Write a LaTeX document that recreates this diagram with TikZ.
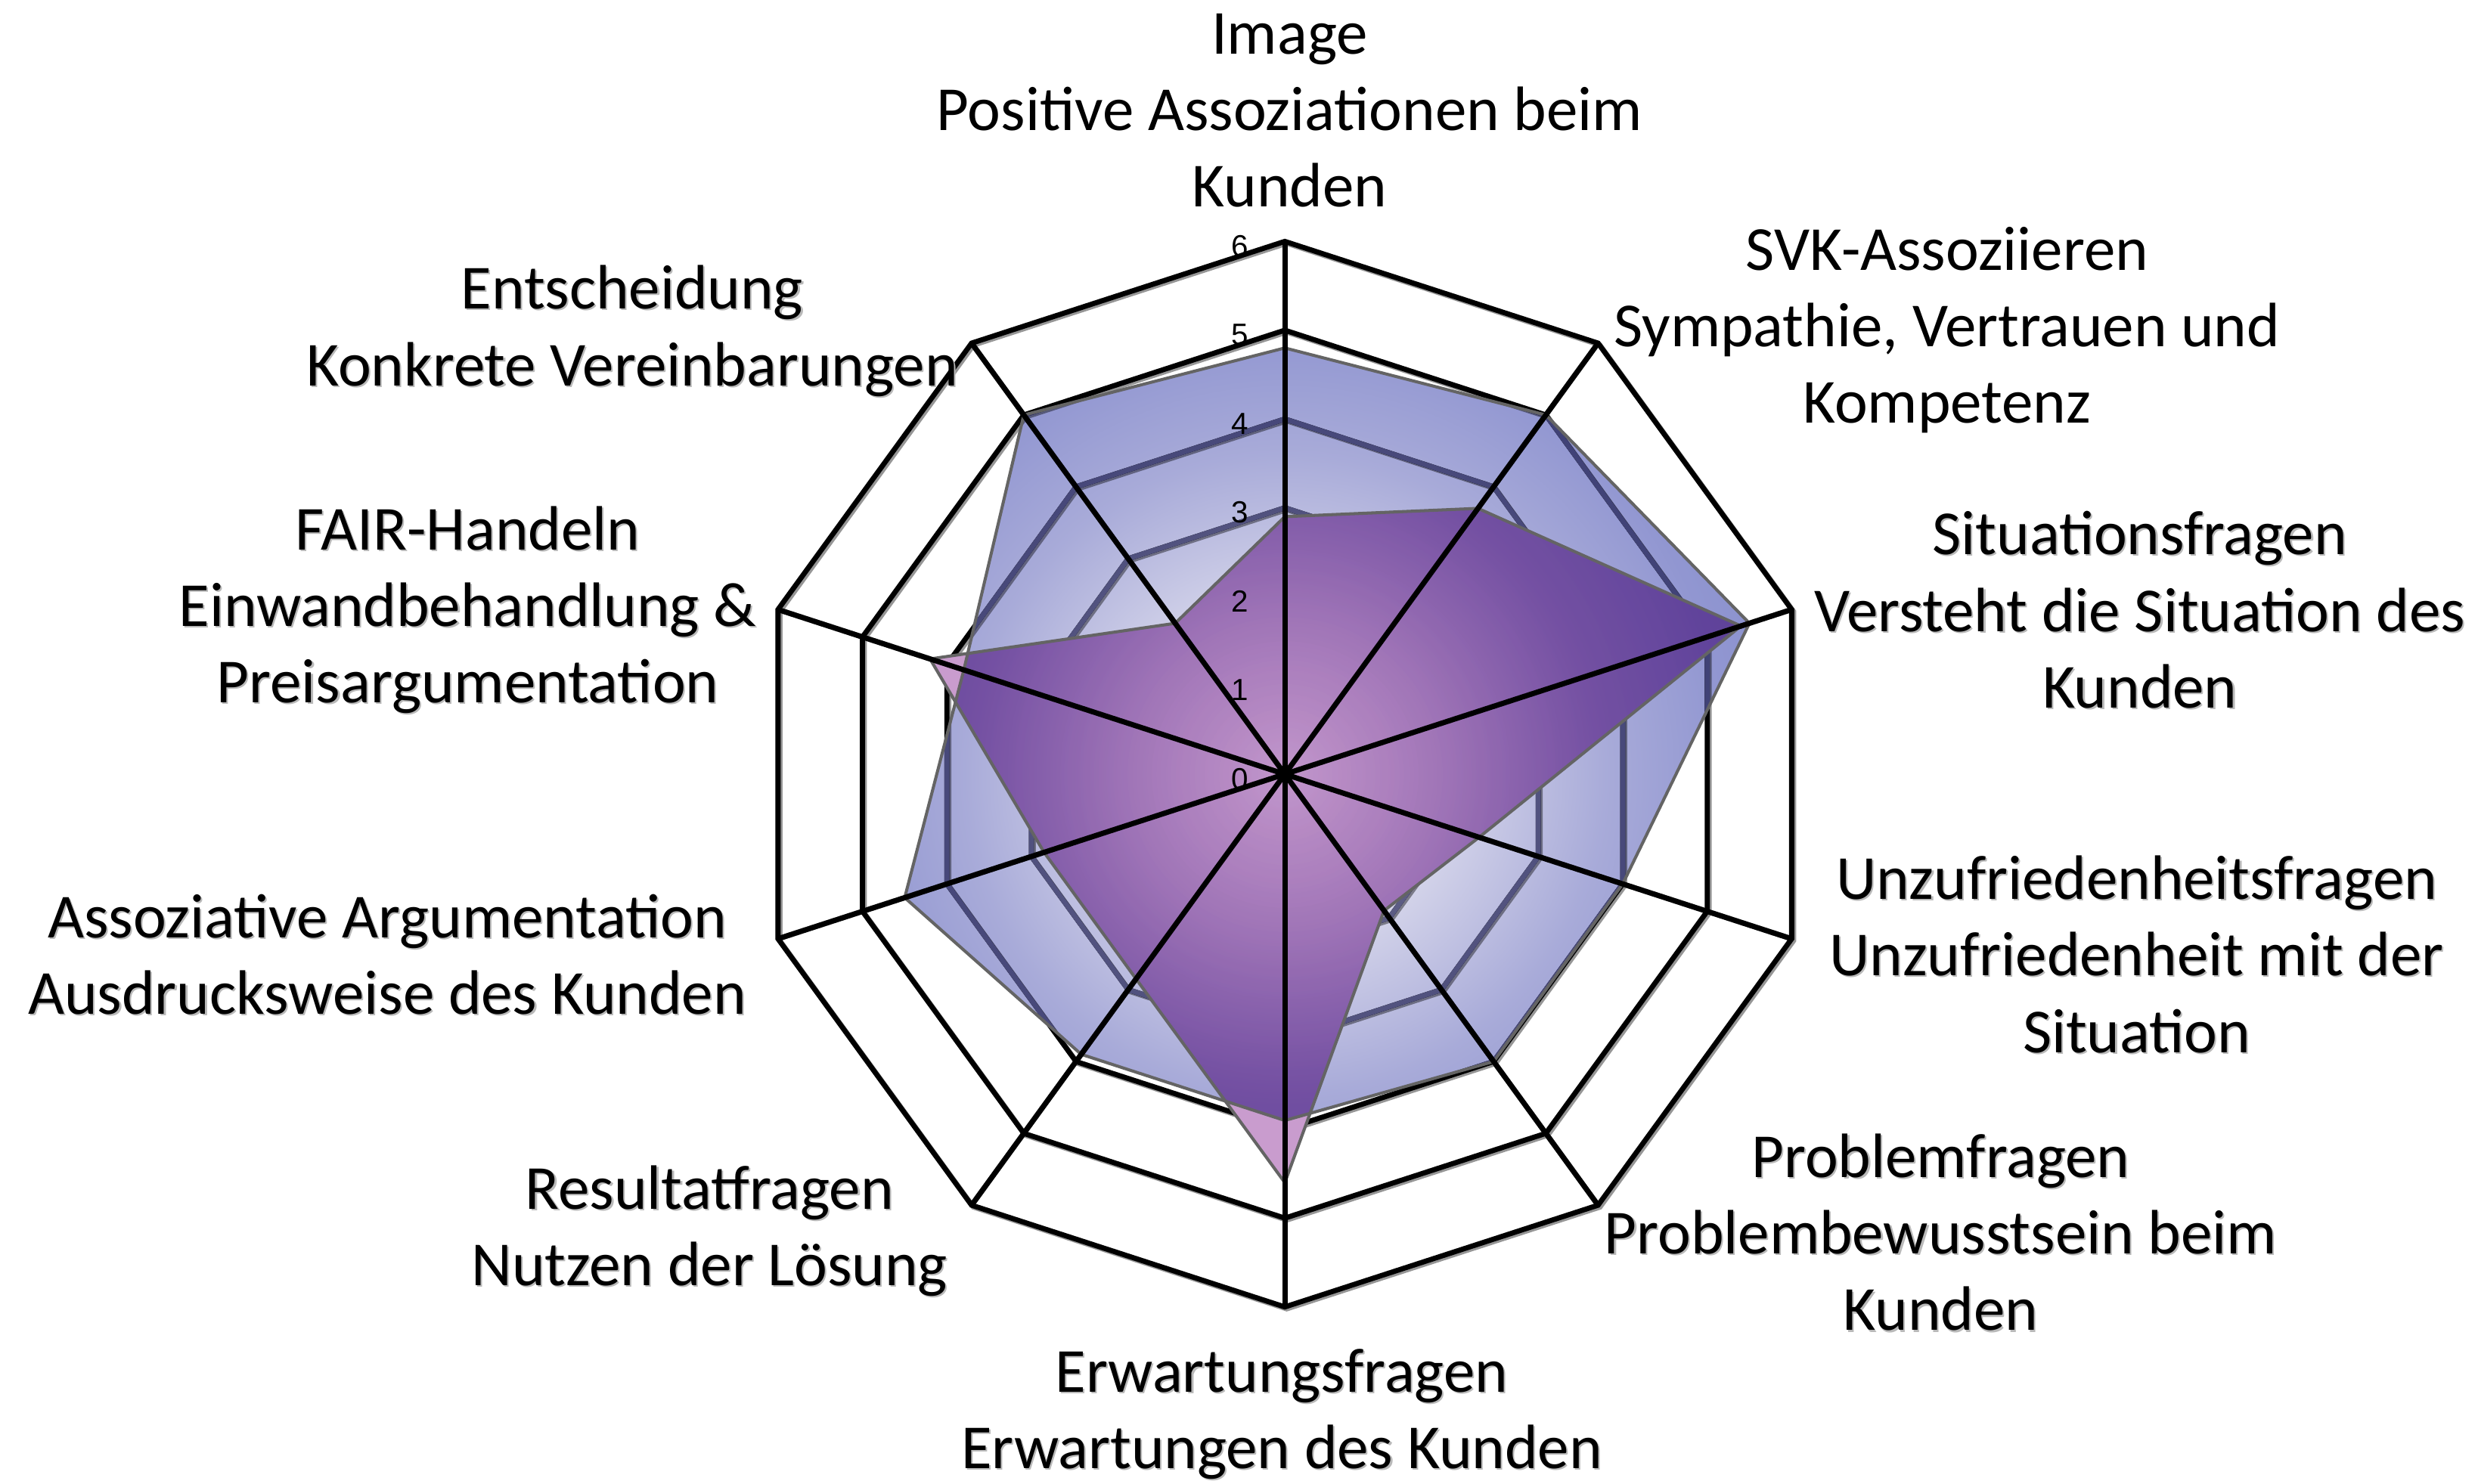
\documentclass[tikz,border=0pt]{standalone}
\usepackage{fontspec}
\setmainfont{Carlito}
\newfontfamily\tickfont{Liberation Sans}
\usetikzlibrary{calc}

\definecolor{pinkfill}{RGB}{201,156,206}
\definecolor{ringblue}{RGB}{112,112,145}
\definecolor{edgegray}{RGB}{100,100,100}
\definecolor{shadowgray}{RGB}{150,150,150}
\definecolor{textshadow}{RGB}{185,185,185}

% light centre, saturated periwinkle rim; radii in absolute bp (one scale step = 31.86bp)
\pgfdeclareradialshading{bluefill}{\pgfpoint{0bp}{0bp}}{%
  rgb(0bp)=(0.97,0.97,0.99);
  rgb(57bp)=(0.84,0.84,0.92);
  rgb(115bp)=(0.66,0.67,0.85);
  rgb(159bp)=(0.57,0.59,0.82);
  rgb(192bp)=(0.53,0.56,0.80)}
% extra violet depth where both series overlap
\pgfdeclareradialshading{deepen}{\pgfpoint{0bp}{0bp}}{%
  rgb(0bp)=(1,1,1);
  rgb(40bp)=(0.97,0.93,0.98);
  rgb(110bp)=(0.87,0.77,0.93);
  rgb(192bp)=(0.84,0.73,0.92)}

\newcommand\shadowedlabel[3]{%
  \node[lbl,text=textshadow] at ($(#1)+(1.0,-1.0)$) {#3};
  \node[lbl] (#2) at (#1) {#3};}

\begin{document}
\begin{tikzpicture}[x=0.02cm,y=0.02cm,line join=miter,
  lbl/.style={font=\fontsize{22.6}{27.6}\selectfont,align=center,inner sep=0pt},
  ringline/.style={line width=1.85pt},
  spokeline/.style={line width=1.9pt},
  seriesedge/.style={draw=edgegray,line width=1.1pt},
  ticklbl/.style={font=\tickfont\fontsize{11}{12}\selectfont,inner sep=0pt}]

\useasboundingbox (-813,-449) rectangle (755,490);
\def\u{56.2}

% centre, axis ends and the two data series
\coordinate (O) at (0,0);
\foreach \i in {0,...,9} \coordinate (ax\i) at ({90-36*\i}:{6*\u});
\foreach \v [count=\i from 0] in {4.8,5,5.5,4,4,3.9,3.9,4.5,3.8,5}
  \coordinate (b\i) at ({90-36*\i}:{\v*\u});
\foreach \v [count=\i from 0] in {2.9,3.7,5.4,2.3,1.9,4.6,2.85,2.85,4.2,2.1}
  \coordinate (p\i) at ({90-36*\i}:{\v*\u});

% soft drop shadow of the grid
\begin{scope}[shift={(1.2,-1.2)}]
  \foreach \r in {1,...,6}
    \draw[ringline,shadowgray] (90:{\r*\u}) \foreach \k in {1,...,9}{ -- ({90-36*\k}:{\r*\u}) } -- cycle;
  \foreach \i in {0,...,9} \draw[spokeline,shadowgray] (O) -- (ax\i);
\end{scope}

% grid rings
\foreach \r in {1,...,6}
  \draw[ringline] (90:{\r*\u}) \foreach \k in {1,...,9}{ -- ({90-36*\k}:{\r*\u}) } -- cycle;

% rings seen through the blue series
\begin{scope}
  \clip (b0)--(b1)--(b2)--(b3)--(b4)--(b5)--(b6)--(b7)--(b8)--(b9)--cycle;
  \foreach \r in {1,...,6}
    \draw[ringline,ringblue] (90:{\r*\u}) \foreach \k in {1,...,9}{ -- ({90-36*\k}:{\r*\u}) } -- cycle;
\end{scope}

% pink series
\fill[pinkfill] (p0)--(p1)--(p2)--(p3)--(p4)--(p5)--(p6)--(p7)--(p8)--(p9)--cycle;

% blue series, multiplied over the pink one
\begin{scope}[blend mode=multiply]
  \clip (b0)--(b1)--(b2)--(b3)--(b4)--(b5)--(b6)--(b7)--(b8)--(b9)--cycle;
  \node[inner sep=0pt,outer sep=0pt] (bluewash) at (O) {\pgfuseshading{bluefill}};
\end{scope}
\begin{scope}[blend mode=multiply]
  \clip (b0)--(b1)--(b2)--(b3)--(b4)--(b5)--(b6)--(b7)--(b8)--(b9)--cycle;
  \clip (p0)--(p1)--(p2)--(p3)--(p4)--(p5)--(p6)--(p7)--(p8)--(p9)--cycle;
  \node[inner sep=0pt,outer sep=0pt] (deepwash) at (O) {\pgfuseshading{deepen}};
\end{scope}

% series outlines
\draw[seriesedge] (b0)--(b1)--(b2)--(b3)--(b4)--(b5)--(b6)--(b7)--(b8)--(b9)--cycle;
\draw[seriesedge] (p0)--(p1)--(p2)--(p3)--(p4)--(p5)--(p6)--(p7)--(p8)--(p9)--cycle;

% spokes
\foreach \i in {0,...,9} \draw[spokeline] (O) -- (ax\i);

% scale
\foreach \k in {0,...,6}
  \node[ticklbl] (tick\k) at (-28.5,{\k*\u-3}) {\k};

% axis captions
\node[lbl] (lImage) at (3,420) {Image\\Positive Assoziationen beim\\Kunden};
\node[lbl] (lSVK) at (419,281) {SVK-Assoziieren\\Sympathie, Vertrauen und\\Kompetenz};
\shadowedlabel{541,104}{lSit}{Situationsfragen\\Versteht die Situation des\\Kunden}
\shadowedlabel{539,-114}{lUnz}{Unzufriedenheitsfragen\\Unzufriedenheit mit der\\Situation}
\shadowedlabel{415,-290}{lProb}{Problemfragen\\Problembewusstsein beim\\Kunden}
\shadowedlabel{-2,-405}{lErw}{Erwartungsfragen\\Erwartungen des Kunden}
\shadowedlabel{-364,-289}{lRes}{Resultatfragen\\Nutzen der Lösung}
\shadowedlabel{-568,-114}{lAss}{Assoziative Argumentation\\Ausdrucksweise des Kunden}
\shadowedlabel{-517,104}{lFair}{FAIR-Handeln\\Einwandbehandlung \&\\Preisargumentation}
\shadowedlabel{-413,280.5}{lEnt}{Entscheidung\\Konkrete Vereinbarungen}
\end{tikzpicture}
\end{document}
